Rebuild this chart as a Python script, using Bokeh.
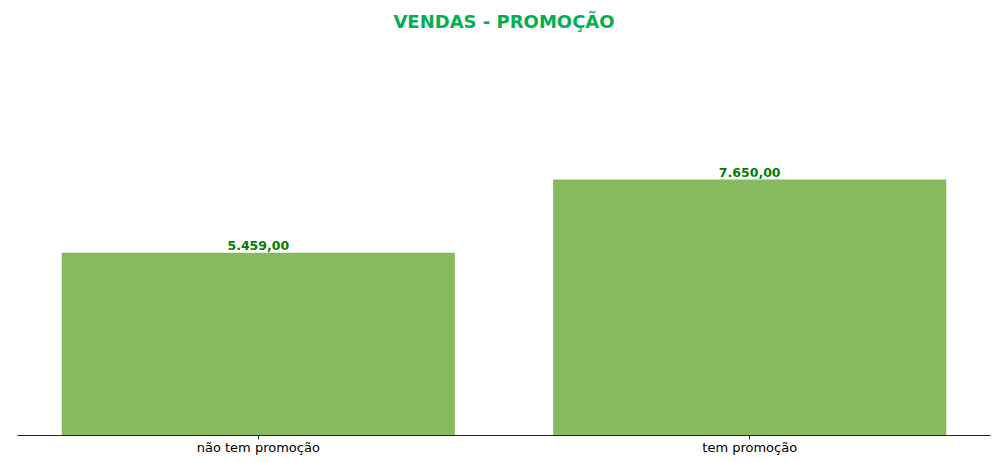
from bokeh.plotting import figure
from bokeh.models import ColumnDataSource, FactorRange, Range1d
from bokeh.core.properties import value
from bokeh.embed import file_html
from bokeh.resources import INLINE

# Data
categories = ["não tem promoção", "tem promoção"]
vendas = [5459.00, 7650.00]
labels = ["5.459,00", "7.650,00"]

FONT = "DejaVu Sans"

source = ColumnDataSource(data=dict(cat=categories, vendas=vendas, label=labels))

p = figure(
    width=1000, height=462,
    x_range=FactorRange(*categories, range_padding=-0.01, range_padding_units="percent"),
    y_range=Range1d(0, 12073),
    output_backend="svg", toolbar_location=None,
    y_axis_location=None,
    min_border_left=17, min_border_right=10, min_border_bottom=27, min_border_top=31,
    outline_line_color=None,
    background_fill_color="white", border_fill_color="white",
)

p.title.text = "VENDAS - PROMOÇÃO"
p.title.align = "center"
p.title.text_font = FONT
p.title.text_font_size = "18px"
p.title.text_font_style = "bold"
p.title.text_color = "#00B050"
p.title.standoff = 0

p.vbar(x="cat", top="vendas", width=0.8, source=source,
       fill_color="#87BA5E", line_color=None)

p.text(x="cat", y="vendas", text="label", source=source,
       text_align="center", text_baseline="bottom", y_offset=-3,
       text_font=value(FONT), text_font_size="12.5px", text_font_style="bold",
       text_color="#008000")

p.xgrid.visible = False
p.ygrid.visible = False
ax = p.xaxis[0]
ax.axis_line_color = "#222222"
ax.axis_line_width = 1
ax.major_tick_out = 4
ax.major_tick_in = 0
ax.major_tick_line_color = "#222222"
ax.minor_tick_line_color = None
ax.major_label_standoff = 0
ax.major_label_text_font = FONT
ax.major_label_text_font_size = "13px"
ax.major_label_text_color = "black"

open("out.html", "w").write(file_html(p, INLINE))
